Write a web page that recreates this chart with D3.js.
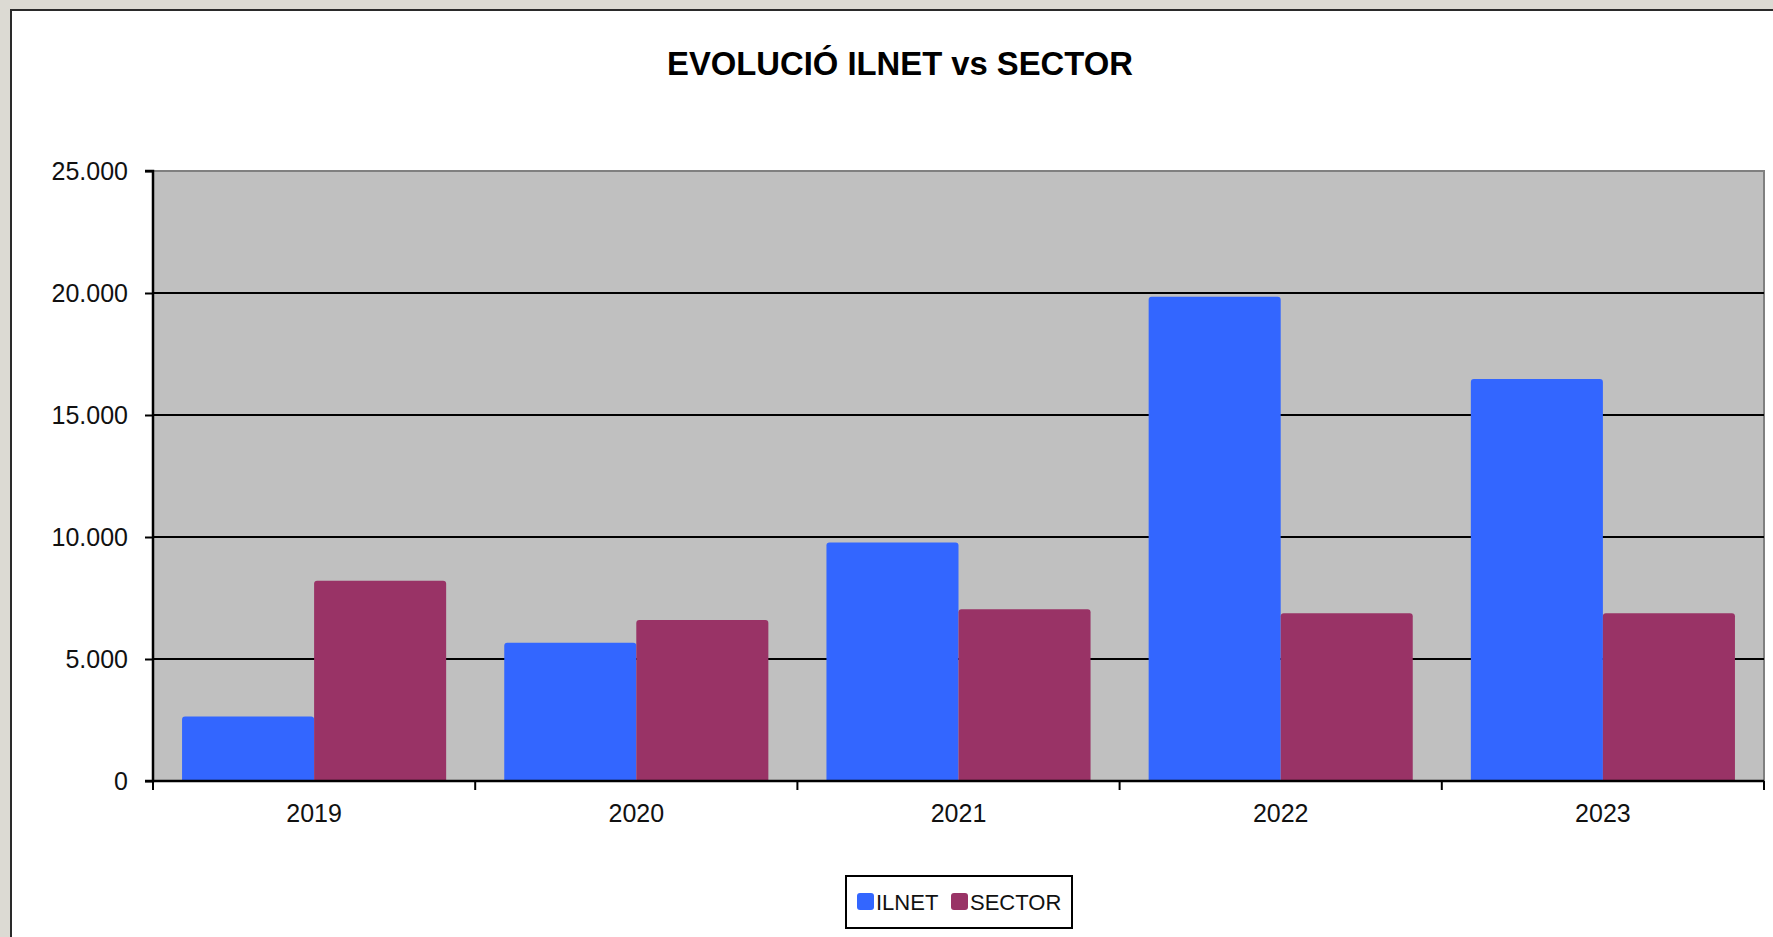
<!DOCTYPE html>
<html><head><meta charset="utf-8">
<script src="https://cdn.jsdelivr.net/npm/d3@7"></script>
<style>body{margin:0;overflow:hidden;background:#e4e2dc}svg{display:block}</style>
</head><body>
<svg id="c" width="1773" height="937"></svg>
<script>
const years = ["2019","2020","2021","2022","2023"];
const ilnet = [2640, 5670, 9770, 19850, 16480];
const sector = [8210, 6600, 7040, 6870, 6870];
const seriesNames = ["ILNET","SECTOR"];
const colors = ["#3366FF","#993366"];
const yTicks = [0,5000,10000,15000,20000,25000];
const title = "EVOLUCIÓ ILNET vs SECTOR";

const svg = d3.select("#c");
const font = "'Liberation Sans', Arial, sans-serif";

// backdrop and frame
svg.append("rect").attr("x",0).attr("y",0).attr("width",1773).attr("height",937).attr("fill","#dcdad3");
svg.append("rect").attr("x",11).attr("y",10).attr("width",1780).attr("height",950)
  .attr("fill","#fff").attr("stroke","#2a2a2a").attr("stroke-width",2);

const L=153, R=1764, T=171, B=781;
const x0 = d3.scaleBand().domain(years).range([L,R]).paddingInner(0).paddingOuter(0);
const x1 = d3.scaleBand().domain(seriesNames).range([0,x0.bandwidth()]).paddingOuter(0.22);
const y = d3.scaleLinear().domain([0,25000]).range([B,T]);

svg.append("rect").attr("x",L).attr("y",T).attr("width",R-L).attr("height",B-T).attr("fill","#C0C0C0");
// plot border top/right
svg.append("path").attr("d",`M${L},${T}H${R}V${B}`).attr("fill","none").attr("stroke","#808080").attr("stroke-width",2);

// gridlines
svg.append("g").selectAll("line").data(yTicks.filter(d=>d>0 && d<25000)).join("line")
  .attr("x1",L).attr("x2",R).attr("y1",d=>y(d)).attr("y2",d=>y(d))
  .attr("stroke","#000").attr("stroke-width",2);

const data = years.map((yr,i)=>({yr, vals:[ilnet[i],sector[i]]}));
const g = svg.append("g");
data.forEach(d=>{
  d.vals.forEach((v,j)=>{
    g.append("path")
      .attr("d",()=>{
        const bx = x0(d.yr)+x1(seriesNames[j]), bw = x1.bandwidth(), by = y(v), r=3;
        return `M${bx},${B}V${by+r}Q${bx},${by} ${bx+r},${by}H${bx+bw-r}Q${bx+bw},${by} ${bx+bw},${by+r}V${B}Z`;
      })
      .attr("fill",colors[j]);
  });
});

// y axis
const yAxis = d3.axisLeft(y).tickValues(yTicks).tickSize(8).tickPadding(17)
  .tickFormat(d=>d3.format(",")(d).replace(/,/g,"."));
const ya = svg.append("g").attr("transform",`translate(${L},0)`).call(yAxis);
ya.select(".domain").attr("stroke","#000").attr("stroke-width",2.5).attr("d",`M-8,${T}H0V${B}H-8`);
ya.selectAll(".tick line").attr("stroke","#000").attr("stroke-width",2);
ya.selectAll("text").attr("font-family",font).attr("font-size",25).attr("fill","#111");

// x axis
const xa = svg.append("g").attr("transform",`translate(0,${B})`);
xa.append("line").attr("x1",L).attr("x2",R).attr("y1",0).attr("y2",0).attr("stroke","#000").attr("stroke-width",2.5);
const bounds = years.map(yv=>x0(yv)).concat([R]);
xa.selectAll("line.t").data(bounds).join("line").attr("class","t")
  .attr("x1",d=>d).attr("x2",d=>d).attr("y1",0).attr("y2",9).attr("stroke","#000").attr("stroke-width",2);
xa.selectAll("text").data(years).join("text")
  .attr("x",d=>x0(d)+x0.bandwidth()/2).attr("y",41).attr("text-anchor","middle")
  .attr("font-family",font).attr("font-size",25).attr("fill","#111").text(d=>d);

// title
svg.append("text").attr("x",900).attr("y",75).attr("text-anchor","middle")
  .attr("font-family",font).attr("font-weight","bold").attr("font-size",32.8).attr("fill","#000").text(title);

// legend
const lg = svg.append("g");
lg.append("rect").attr("x",846).attr("y",876).attr("width",226).attr("height",52)
  .attr("fill","#fff").attr("stroke","#000").attr("stroke-width",2);
const items = [{n:seriesNames[0],c:colors[0],x:857},{n:seriesNames[1],c:colors[1],x:951}];
items.forEach(it=>{
  lg.append("rect").attr("x",it.x).attr("y",893).attr("width",17).attr("height",17).attr("rx",3).attr("fill",it.c);
  lg.append("text").attr("x",it.x+19).attr("y",910).attr("font-family",font).attr("font-size",22).attr("fill","#111").text(it.n);
});
</script>
</body></html>
